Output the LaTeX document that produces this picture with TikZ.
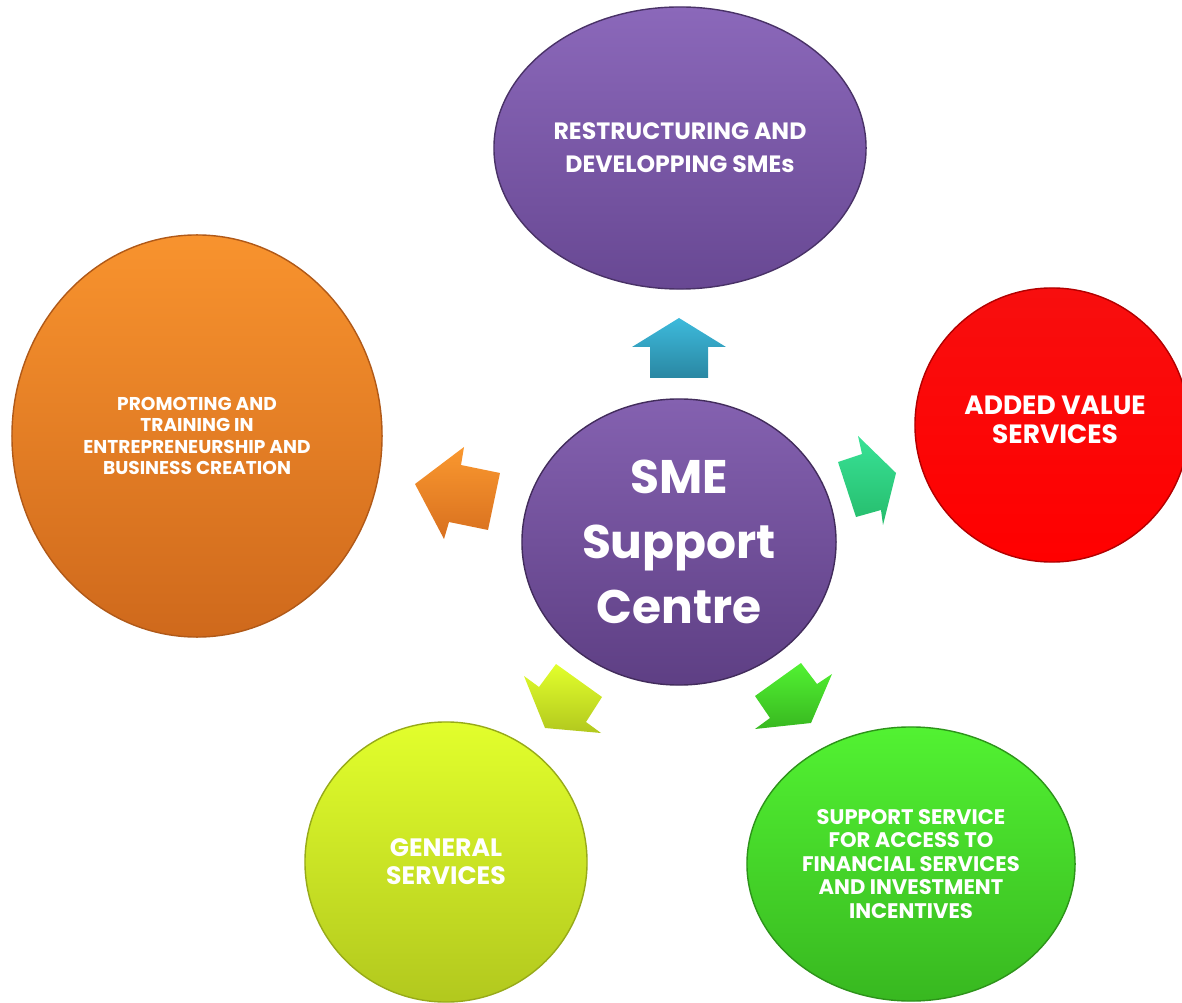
\documentclass[tikz,border=0pt]{standalone}
\usepackage{fontspec}
\setmainfont{Poppins}
\usetikzlibrary{shapes.geometric}

\definecolor{restop}{HTML}{8B68BA}
\definecolor{resbot}{HTML}{684893}
\definecolor{centtop}{HTML}{8461B0}
\definecolor{centbot}{HTML}{5E3F84}
\definecolor{promtop}{HTML}{F8932E}
\definecolor{prombot}{HTML}{CF691C}
\definecolor{addtop}{HTML}{F80E0E}
\definecolor{addbot}{HTML}{FF0000}
\definecolor{gentop}{HTML}{E2FF2C}
\definecolor{genbot}{HTML}{B2C81E}
\definecolor{fintop}{HTML}{52F232}
\definecolor{finbot}{HTML}{38B820}
\definecolor{uptop}{HTML}{3DBADC}
\definecolor{upbot}{HTML}{2A87A2}
\definecolor{lefttop}{HTML}{FA982F}
\definecolor{leftbot}{HTML}{D8701F}
\definecolor{righttop}{HTML}{38E296}
\definecolor{rightbot}{HTML}{26BC6C}

\tikzset{
  bubble/.style={ellipse, inner sep=0pt, align=center, text=white, line width=1pt},
  bubblefont/.style 2 args={font=\bfseries\fontsize{#1}{#2}\selectfont},
}

\begin{document}
\begin{tikzpicture}[x=0.025cm,y=-0.025cm]
  \useasboundingbox (0,0) rectangle (1182,1003);
  % outer bubbles
  \node[bubble, minimum width=9.3cm, minimum height=7.05cm, top color=restop, bottom color=resbot,
        draw=resbot!70!black, bubblefont={16.8}{23.6}] (restructuring) at (680,148)
        {RESTRUCTURING AND\\DEVELOPPING SMEs};
  \node[bubble, minimum width=9.25cm, minimum height=10.05cm, top color=promtop, bottom color=prombot,
        draw=prombot!85!black, bubblefont={13.2}{15}] (promoting) at (197,436)
        {PROMOTING AND\\TRAINING IN\\ENTREPRENEURSHIP AND\\BUSINESS CREATION};
  \node[bubble, minimum width=6.85cm, minimum height=6.85cm, top color=addtop, bottom color=addbot,
        draw=addbot!70!black] (added) at (1052,425) {};
  \node[bubblefont={18.8}{20.8}, text=white, align=center] (addedtext) at (1055,420)
        {ADDED VALUE\\SERVICES};
  \node[bubble, minimum width=7.05cm, minimum height=7cm, top color=gentop, bottom color=genbot,
        draw=genbot!85!black, bubblefont={17.9}{19.8}] (general) at (446,862)
        {GENERAL\\SERVICES};
  \node[bubble, minimum width=8.2cm, minimum height=6.85cm, top color=fintop, bottom color=finbot,
        draw=finbot!80!black, bubblefont={15}{16.7}] (financial) at (911,864)
        {SUPPORT SERVICE\\FOR ACCESS TO\\FINANCIAL SERVICES\\AND INVESTMENT\\INCENTIVES};
  % centre
  \node[bubble, minimum width=7.85cm, minimum height=7.15cm, top color=centtop, bottom color=centbot,
        draw=centbot!70!black, bubblefont={33.5}{46}] (centre) at (679,542)
        {SME\\Support\\Centre};
  % block arrows
  \shade[top color=uptop, bottom color=upbot] (679,318) -- (726,347) -- (708,347) -- (708,378)
        -- (650,378) -- (650,347) -- (632,347) -- cycle;
  \shade[top color=lefttop, bottom color=leftbot] (415,484) -- (464,447) -- (461,465) -- (500,473)
        -- (488,530) -- (449,522) -- (444,539) -- cycle;
  \shade[top color=righttop, bottom color=rightbot] (896,473) -- (858,436) -- (862,454) -- (838,462)
        -- (856,517) -- (881,510) -- (883,525) -- cycle;
  \shade[top color=gentop, bottom color=genbot] (545,728) -- (524,676) -- (539,687) -- (556,664)
        -- (602,697) -- (586,722) -- (601,733) -- cycle;
  \shade[top color=fintop, bottom color=finbot] (811,723) -- (755,729) -- (770,718) -- (755,696)
        -- (801,663) -- (817,684) -- (832,674) -- cycle;
\end{tikzpicture}
\end{document}
